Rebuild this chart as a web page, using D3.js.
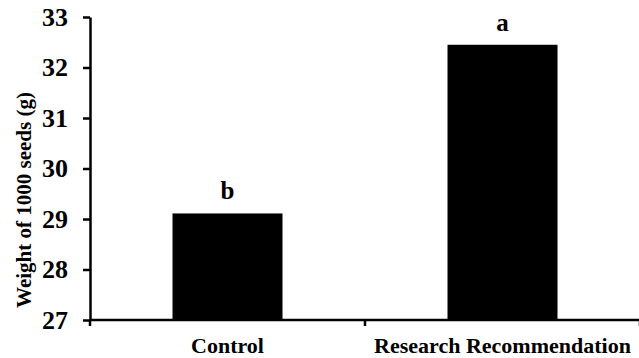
<!DOCTYPE html>
<html>
<head>
  <meta charset="utf-8">
  <script src="https://d3js.org/d3.v7.min.js"></script>
  <style>
    body { margin: 0; background: #fff; }
    svg text { font-family: "Liberation Serif", "Times New Roman", serif; font-weight: bold; fill: #000; }
  </style>
</head>
<body>
  <script>
    // chart data
    var categories = ["Control", "Research Recommendation"];
    var weights = [29.11, 32.45];
    var letters = ["b", "a"];
    var yTicks = [27, 28, 29, 30, 31, 32, 33];

    var width = 639, height = 358;
    var plotLeft = 90, plotRight = 640, plotTop = 17, plotBottom = 320;
    var serif = "'Liberation Serif', 'Times New Roman', serif";

    var svg = d3.select("body").append("svg")
        .attr("width", width)
        .attr("height", height);

    var x = d3.scaleBand()
        .domain(categories)
        .range([plotLeft, plotRight])
        .paddingInner(0.6)
        .paddingOuter(0.3);

    var y = d3.scaleLinear()
        .domain([27, 33])
        .range([plotBottom, plotTop]);

    // bars
    svg.selectAll("rect.bar")
        .data(weights)
        .enter()
        .append("rect")
        .attr("class", "bar")
        .attr("x", function(d, i) { return x(categories[i]); })
        .attr("y", function(d) { return y(d); })
        .attr("width", x.bandwidth())
        .attr("height", function(d) { return y(27) - y(d); })
        .attr("fill", "#000");

    // significance letters
    svg.selectAll("text.letter")
        .data(weights)
        .enter()
        .append("text")
        .attr("class", "letter")
        .attr("x", function(d, i) { return x(categories[i]) + x.bandwidth() / 2; })
        .attr("y", function(d) { return y(d) - 14; })
        .attr("text-anchor", "middle")
        .style("font-family", serif)
        .style("font-size", "25px")
        .text(function(d, i) { return letters[i]; });

    // y axis
    var yAxis = svg.append("g")
        .attr("transform", "translate(" + plotLeft + ",0)")
        .call(d3.axisLeft(y).tickValues(yTicks).tickFormat(d3.format("d"))
            .tickSize(7).tickPadding(15).tickSizeOuter(0));
    yAxis.select(".domain").attr("stroke", "#000").attr("stroke-width", 2.5);
    yAxis.selectAll(".tick line").attr("stroke", "#000").attr("stroke-width", 2.5);
    yAxis.selectAll(".tick text")
        .style("font-family", serif)
        .style("font-size", "26px");

    // x axis with boundary ticks
    var xLine = svg.append("g");
    xLine.append("line")
        .attr("x1", plotLeft).attr("x2", plotRight)
        .attr("y1", plotBottom).attr("y2", plotBottom)
        .attr("stroke", "#000").attr("stroke-width", 2.5);
    var bounds = [plotLeft].concat(categories.map(function(c) { return x(c) + x.bandwidth() / 2 + x.step() / 2; }));
    xLine.selectAll("line.xt")
        .data(bounds)
        .enter()
        .append("line")
        .attr("class", "xt")
        .attr("x1", function(d) { return d; })
        .attr("x2", function(d) { return d; })
        .attr("y1", plotBottom)
        .attr("y2", plotBottom + 6)
        .attr("stroke", "#000").attr("stroke-width", 2.5);

    svg.selectAll("text.cat")
        .data(categories)
        .enter()
        .append("text")
        .attr("class", "cat")
        .attr("x", function(d) { return x(d) + x.bandwidth() / 2; })
        .attr("y", 353)
        .attr("text-anchor", "middle")
        .style("font-family", serif)
        .style("font-size", "22px")
        .text(function(d) { return d; });

    // y title
    svg.append("text")
        .attr("transform", "translate(31,200) rotate(-90)")
        .attr("text-anchor", "middle")
        .style("font-family", serif)
        .style("font-size", "21px")
        .text("Weight of 1000 seeds (g)");
  </script>
</body>
</html>
